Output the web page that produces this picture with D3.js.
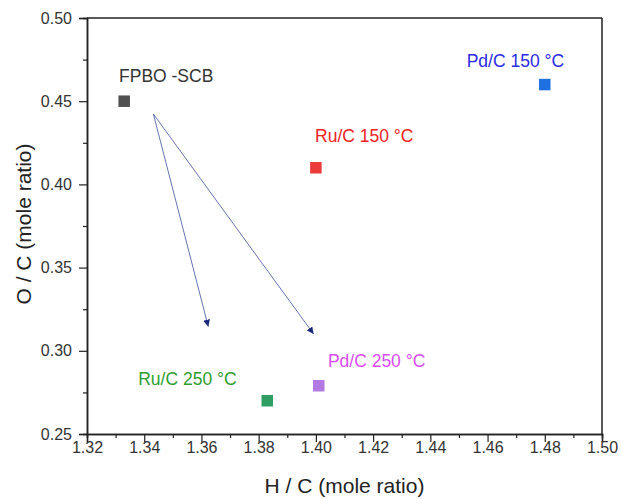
<html>
<head>
<script src="https://cdnjs.cloudflare.com/ajax/libs/d3/7.8.5/d3.min.js"></script>
<style>
    body { margin: 0; background: #fff; }
    svg { font-family: "Liberation Sans", Arial, sans-serif; }
    .axisTitle { font-size: 21px; fill: #222; }
    .pointLabel { font-size: 17.5px; }
</style>
</head>
<body>
<script>
var samples = ["FPBO -SCB", "Ru/C 150 \u00b0C", "Pd/C 150 \u00b0C", "Ru/C 250 \u00b0C", "Pd/C 250 \u00b0C"];
var hc = [1.333, 1.400, 1.480, 1.383, 1.401];
var oc = [0.450, 0.410, 0.460, 0.270, 0.279];
var markerColors = ["#505050", "#ec3b3b", "#1e6fe0", "#2e9e62", "#b27ae2"];
var labelColors = ["#333333", "#ee2222", "#2a2ae6", "#2e9e2e", "#d84cf2"];
// label anchor in data units (left edge, baseline)
var labelX = [1.3312, 1.3997, 1.4527, 1.3379, 1.4042];
var labelY = [0.4615, 0.4253, 0.4707, 0.2794, 0.2904];
// arrows from the raw oil toward the 250 °C products
var arrowFrom = [[1.3432, 0.4423], [1.3432, 0.4423]];
var arrowTo = [[1.3624, 0.3145], [1.3992, 0.3101]];
var xTicks = [1.32, 1.34, 1.36, 1.38, 1.40, 1.42, 1.44, 1.46, 1.48, 1.50];
var yTicks = [0.25, 0.30, 0.35, 0.40, 0.45, 0.50];

drawChart();

function drawChart() {
    var width = 621, height = 499;
    var pl = 87, pr = 602, pt = 18, pb = 434;

    var svg = d3.select("body").append("svg")
        .attr("width", width)
        .attr("height", height);

    var x = d3.scaleLinear().domain([1.32, 1.50]).range([pl, pr]);
    var y = d3.scaleLinear().domain([0.25, 0.50]).range([pb, pt]);

    svg.append("defs").append("marker")
        .attr("id", "head")
        .attr("viewBox", "0 0 10 10")
        .attr("refX", 10).attr("refY", 5)
        .attr("markerWidth", 7).attr("markerHeight", 7)
        .attr("markerUnits", "userSpaceOnUse")
        .attr("orient", "auto")
        .append("path")
        .attr("d", "M0,0 L10,5 L0,10 z")
        .attr("fill", "#1b2a7a");

    // frame
    svg.append("line").attr("x1", pl).attr("x2", pr).attr("y1", pt).attr("y2", pt)
        .attr("stroke", "#222").attr("stroke-width", 1.5);
    svg.append("line").attr("x1", pr).attr("x2", pr).attr("y1", pt).attr("y2", pb)
        .attr("stroke", "#222").attr("stroke-width", 1.5);

    function minor(ticks) {
        var out = [];
        for (var i = 0; i < ticks.length - 1; i++) out.push((ticks[i] + ticks[i + 1]) / 2);
        return out;
    }

    var xMinor = svg.append("g").attr("transform", "translate(0," + pb + ")")
        .call(d3.axisBottom(x).tickValues(minor(xTicks)).tickSize(4).tickFormat(""));
    var xAxis = svg.append("g").attr("transform", "translate(0," + pb + ")")
        .call(d3.axisBottom(x).tickValues(xTicks).tickSize(8).tickPadding(0).tickFormat(d3.format(".2f")));
    var yMinor = svg.append("g").attr("transform", "translate(" + pl + ",0)")
        .call(d3.axisLeft(y).tickValues(minor(yTicks)).tickSize(4).tickFormat(""));
    var yAxis = svg.append("g").attr("transform", "translate(" + pl + ",0)")
        .call(d3.axisLeft(y).tickValues(yTicks).tickSize(8).tickPadding(7).tickFormat(d3.format(".2f")));

    [xMinor, xAxis, yMinor, yAxis].forEach(function (g) {
        g.attr("font-size", 16).attr("font-family", "Liberation Sans, Arial, sans-serif");
        g.select(".domain").attr("stroke", "#222").attr("stroke-width", 1.5);
        g.selectAll(".tick line").attr("stroke", "#222").attr("stroke-width", 1.2);
        g.selectAll(".tick text").attr("fill", "#333");
    });

    svg.append("text").attr("class", "axisTitle")
        .attr("x", (pl + pr) / 2).attr("y", 493)
        .attr("text-anchor", "middle")
        .text("H / C (mole ratio)");
    svg.append("text").attr("class", "axisTitle")
        .attr("transform", "translate(31,224) rotate(-90)")
        .attr("text-anchor", "middle")
        .text("O / C (mole ratio)");

    // arrows
    svg.selectAll(".arrow").data(arrowFrom).enter().append("line")
        .attr("class", "arrow")
        .attr("x1", function (d) { return x(d[0]); })
        .attr("y1", function (d) { return y(d[1]); })
        .attr("x2", function (d, i) { return x(arrowTo[i][0]); })
        .attr("y2", function (d, i) { return y(arrowTo[i][1]); })
        .attr("stroke", "#5464a8")
        .attr("stroke-width", 0.9)
        .attr("marker-end", "url(#head)");

    var s = 11.5;
    svg.selectAll(".pt").data(samples).enter().append("rect")
        .attr("class", "pt")
        .attr("x", function (d, i) { return x(hc[i]) - s / 2; })
        .attr("y", function (d, i) { return y(oc[i]) - s / 2; })
        .attr("width", s).attr("height", s)
        .attr("fill", function (d, i) { return markerColors[i]; });

    svg.selectAll(".pointLabel").data(samples).enter().append("text")
        .attr("class", "pointLabel")
        .attr("x", function (d, i) { return x(labelX[i]); })
        .attr("y", function (d, i) { return y(labelY[i]); })
        .attr("fill", function (d, i) { return labelColors[i]; })
        .text(function (d) { return d; });
}
</script>
</body>
</html>
